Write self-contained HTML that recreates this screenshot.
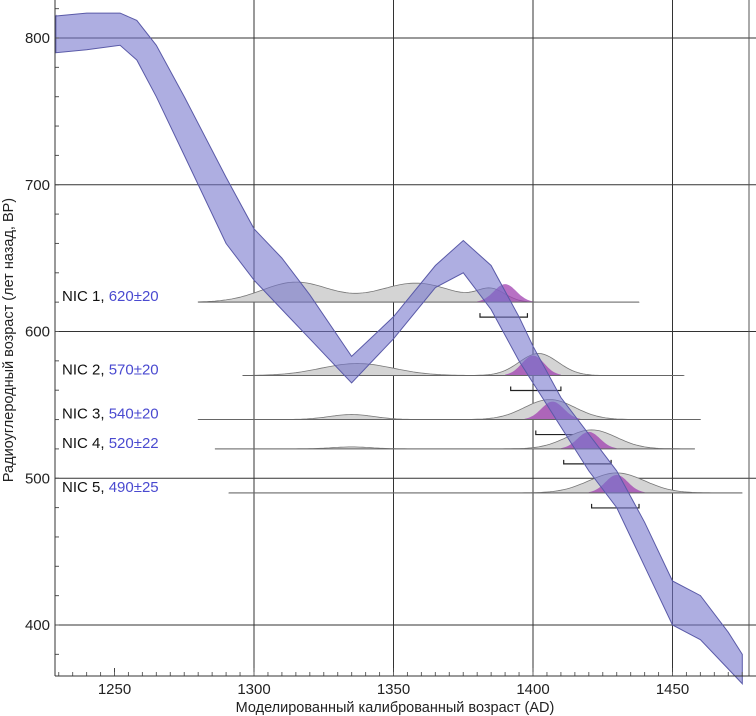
<!DOCTYPE html>
<html><head><meta charset="utf-8"><style>
html,body{margin:0;padding:0;background:#fff;}
svg{display:block;font-family:"Liberation Sans","DejaVu Sans",sans-serif;}
</style></head><body>
<svg id="chart" width="756" height="716" viewBox="0 0 756 716" xmlns="http://www.w3.org/2000/svg">
<g id="grid"></g>
<g id="dists"></g>
<g id="band"></g>
<g id="axes"></g>
<text x="395" y="712" font-size="14.5" text-anchor="middle" fill="#222">Моделированный калиброванный возраст (AD)</text>
<text transform="translate(13,340) rotate(-90)" font-size="14.5" text-anchor="middle" fill="#222">Радиоуглеродный возраст (лет назад, BP)</text>
</svg>
<script>
const xTicks=[1250,1300,1350,1400,1450];
const yTicks=[400,500,600,700,800];
const curveYears=[1229,1240,1252,1258,1265,1275,1290,1300,1310,1320,1335,1350,1365,1375,1385,1395,1400,1410,1420,1430,1440,1450,1460,1470,1475];
const curveLow=[790,792,795,785,760,720,660,635,615,595,565,595,630,640,615,580,565,535,505,480,440,400,390,370,360];
const curveHigh=[815,817,817,812,795,760,705,670,650,625,583,610,645,662,645,610,590,555,530,505,470,430,420,395,380];
const sampleNames=["NIC 1","NIC 2","NIC 3","NIC 4","NIC 5"];
const sampleLabels=["620±20","570±20","540±20","520±22","490±25"];
const sampleBP=[620,570,540,520,490];
const lineStart=[1280,1296,1280,1286,1291];
const lineEnd=[1438,1454,1460,1458,1475];
// gray components: [mean, sd, height(px)]
const grayComps=[[[1315,12,20],[1358,13,19],[1385,5,12]],[[1337,13,12],[1402,7,22]],[[1335,8,5],[1406,9,20]],[[1335,7,2],[1421,9,19]],[[1430,10,20]]];
const purpleComps=[[[1390,4,18]],[[1400,4,20]],[[1407,4,18]],[[1420,4,17]],[[1430,4,18]]];
const bracketStart=[1381,1392,1401,1411,1421];
const bracketEnd=[1398,1410,1419,1428,1438];

const X=v=>254+(v-1300)*2.79;
const Y=v=>38+(800-v)*1.4675;
const NS="http://www.w3.org/2000/svg";
function mk(tag,attrs,parent){const e=document.createElementNS(NS,tag);for(const k in attrs)e.setAttribute(k,attrs[k]);parent.appendChild(e);return e;}
const grid=document.getElementById('grid'),axes=document.getElementById('axes'),dists=document.getElementById('dists'),band=document.getElementById('band');
yTicks.forEach(t=>{
  const l=mk('line',{x1:55,x2:756,y1:Y(t),y2:Y(t),stroke:'#333','stroke-width':1},grid);
  
  
  const tx=mk('text',{x:50,y:Y(t)+5,'font-size':15,'text-anchor':'end',fill:'#222'},axes);tx.textContent=t;
  
  
});
for(let v=380;v<=820;v+=20){mk('line',{x1:55,x2:59,y1:Y(v),y2:Y(v),stroke:'#555'},axes);}
xTicks.forEach(t=>{
  if(t>=1300){const l=mk('line',{x1:X(t),x2:X(t),y1:0,y2:676,stroke:'#333','stroke-width':1},grid);
  
  }
  mk('line',{x1:X(t),x2:X(t),y1:668,y2:676,stroke:'#444'},axes);
  const tx=mk('text',{x:X(t),y:694,'font-size':15,'text-anchor':'middle',fill:'#222'},axes);tx.textContent=t;
  
  
});
for(let v=1230;v<=1475;v+=5){mk('line',{x1:X(v),x2:X(v),y1:672,y2:676,stroke:'#666'},axes);}
mk('line',{x1:55,x2:55,y1:0,y2:676,stroke:'#333'},axes);
mk('line',{x1:55,x2:756,y1:676,y2:676,stroke:'#333'},axes);
mk('line',{x1:749,x2:749,y1:0,y2:676,stroke:'#555'},grid);

function dens(comps,v){let s=0;comps.forEach(c=>{s+=c[2]*Math.exp(-0.5*((v-c[0])/c[1])**2);});return s;}
sampleNames.forEach((n,i)=>{
  const by=Y(sampleBP[i]);
  const g=mk('g',{},dists);
  
  
  let d='M'+X(lineStart[i])+','+by;
  for(let v=lineStart[i];v<=lineEnd[i];v+=1)d+=' L'+X(v).toFixed(1)+','+(by-dens(grayComps[i],v)).toFixed(1);
  d+=' L'+X(lineEnd[i])+','+by+'Z';
  mk('path',{d:d,fill:'#d4d4d4',stroke:'#777','stroke-width':0.8},g);
  const pm=purpleComps[i][0][0];
  let p='M'+X(pm-10)+','+by;
  for(let v=pm-10;v<=pm+10;v+=0.5)p+=' L'+X(v).toFixed(1)+','+(by-dens(purpleComps[i],v)).toFixed(1);
  p+=' L'+X(pm+10)+','+by+'Z';
  mk('path',{d:p,fill:'#a040b0','fill-opacity':0.75,stroke:'none'},g);
  mk('line',{x1:X(lineStart[i]),x2:X(lineEnd[i]),y1:by,y2:by,stroke:'#666','stroke-width':1},g);
  const bry=by+15;
  const br=mk('path',{d:`M${X(bracketStart[i])},${bry-4} V${bry} H${X(bracketEnd[i])} V${bry-4}`,fill:'none',stroke:'#222','stroke-width':1.2},g);
  
  
  const t=mk('text',{x:62,y:by-1,'font-size':15,fill:'#111'},g);
  
  
  const t1=mk('tspan',{},t);t1.textContent=n+', ';
  const t2=mk('tspan',{fill:'#4a4ad0'},t);t2.textContent=sampleLabels[i];
});
let bd='M'+X(curveYears[0])+','+Y(curveHigh[0]);
curveYears.forEach((yr,i)=>{bd+=' L'+X(yr).toFixed(1)+','+Y(curveHigh[i]).toFixed(1);});
for(let i=curveYears.length-1;i>=0;i--)bd+=' L'+X(curveYears[i]).toFixed(1)+','+Y(curveLow[i]).toFixed(1);
bd+='Z';
const bp=mk('path',{d:bd,fill:'#7474cc','fill-opacity':0.58,stroke:'#5a5aa8','stroke-width':1},band);


</script>
</body></html>
